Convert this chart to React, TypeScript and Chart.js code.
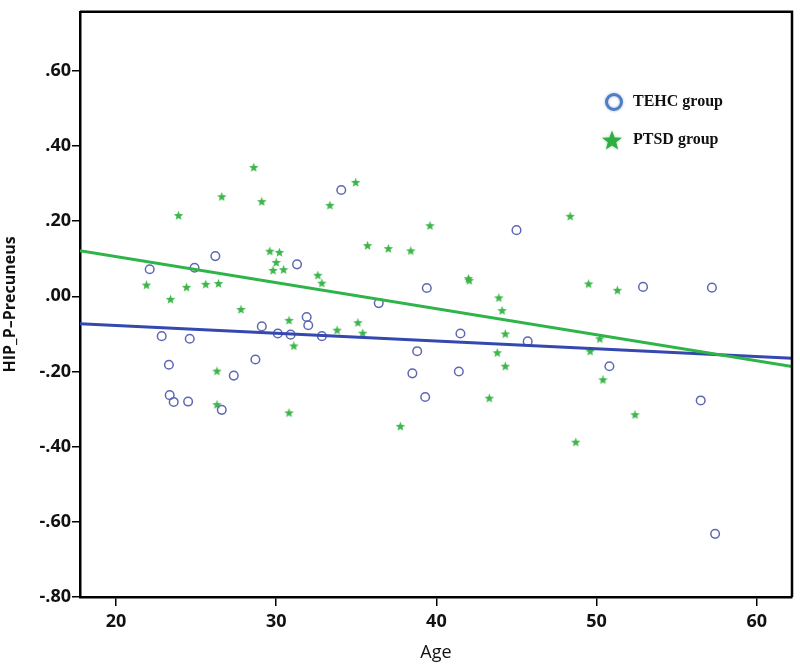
import React, { useEffect, useRef } from "react";
import { Chart, registerables } from "chart.js";

Chart.register(...registerables);

// ---- data ----
const tehcAge = [22.1, 22.85, 23.3, 23.35, 23.6, 24.5, 24.6, 24.9, 26.2, 26.6, 27.35, 28.7, 29.1, 30.1, 30.9, 31.3, 31.9, 32.0, 32.85, 34.06, 36.4, 38.5, 38.8, 39.3, 39.4, 41.4, 41.5, 45.0, 45.7, 50.8, 52.9, 56.5, 57.2, 57.4];
const tehcVal = [0.072, -0.106, -0.182, -0.263, -0.281, -0.28, -0.113, 0.076, 0.107, -0.302, -0.211, -0.168, -0.08, -0.099, -0.102, 0.085, -0.055, -0.077, -0.106, 0.283, -0.018, -0.205, -0.146, -0.268, 0.022, -0.2, -0.099, 0.176, -0.12, -0.186, 0.025, -0.277, 0.023, -0.632];

const ptsdAge = [21.9, 23.4, 23.9, 24.4, 25.6, 26.3, 26.3, 26.4, 26.6, 27.8, 28.6, 29.1, 29.6, 29.8, 30.0, 30.2, 30.46, 30.8, 30.8, 31.1, 32.6, 32.85, 33.35, 33.8, 34.96, 35.1, 35.4, 35.7, 37.0, 37.75, 38.4, 39.6, 42.0, 42.05, 43.3, 43.8, 43.9, 44.1, 44.3, 44.3, 48.35, 48.7, 49.5, 49.6, 50.2, 50.4, 51.3, 52.4];
const ptsdVal = [0.03, -0.008, 0.215, 0.024, 0.032, -0.199, -0.288, 0.034, 0.265, -0.035, 0.343, 0.252, 0.12, 0.069, 0.09, 0.117, 0.071, -0.064, -0.31, -0.132, 0.056, 0.035, 0.242, -0.09, 0.303, -0.07, -0.098, 0.135, 0.127, -0.346, 0.121, 0.188, 0.047, 0.042, -0.271, -0.15, -0.004, -0.038, -0.1, -0.186, 0.213, -0.388, 0.033, -0.146, -0.113, -0.222, 0.016, -0.315];

const fitAge = [17.75, 62.2];
const tehcFit = [-0.073, -0.165];
const ptsdFit = [0.121, -0.187];

const xTicks = [20, 30, 40, 50, 60];
const yTicks = [-0.8, -0.6, -0.4, -0.2, 0, 0.2, 0.4, 0.6];
const legendLabels = ["TEHC group", "PTSD group"];
const xTitle = "Age";
const yTitle = "HIP_P\u2013Precuneus";

const CIRCLE_COLOR = "#5f67b3";
const STAR_COLOR = "#3cb54a";
const GREEN_LINE = "#2fb44a";
const BLUE_LINE = "#3448b0";

function starPath(ctx: CanvasRenderingContext2D, cx: number, cy: number, ro: number, ri: number) {
  ctx.beginPath();
  for (let i = 0; i < 10; i++) {
    const r = i % 2 === 0 ? ro : ri;
    const a = -Math.PI / 2 + (i * Math.PI) / 5;
    const x = cx + r * Math.cos(a);
    const y = cy + r * Math.sin(a);
    if (i === 0) ctx.moveTo(x, y);
    else ctx.lineTo(x, y);
  }
  ctx.closePath();
}

function makeStarImage(): HTMLCanvasElement {
  const c = document.createElement("canvas");
  c.width = 11;
  c.height = 11;
  const g = c.getContext("2d")!;
  g.fillStyle = STAR_COLOR;
  starPath(g, 5.5, 5.8, 5, 2.1);
  g.fill();
  return c;
}

const framePlugin = {
  id: "framePlugin",
  afterDraw(chart: any) {
    const { ctx, chartArea } = chart;
    const { left, right, top, bottom } = chartArea;
    ctx.save();
    // top & right frame
    ctx.strokeStyle = "#000";
    ctx.lineWidth = 2.5;
    ctx.beginPath();
    ctx.moveTo(left, top);
    ctx.lineTo(right, top);
    ctx.lineTo(right, bottom);
    ctx.stroke();

    // axis titles
    ctx.fillStyle = "#111";
    ctx.font = '18px "Open Sans"';
    ctx.textAlign = "center";
    ctx.textBaseline = "middle";
    ctx.fillText(xTitle, (left + right) / 2, 653);

    ctx.save();
    ctx.translate(10, (top + bottom) / 2);
    ctx.rotate(-Math.PI / 2);
    ctx.font = 'bold 16px "Open Sans"';
    ctx.fillText(yTitle, 0, 0);
    ctx.restore();

    // legend
    ctx.shadowColor = "rgba(60,90,150,0.45)";
    ctx.shadowBlur = 3;
    ctx.strokeStyle = "#4d7fc6";
    ctx.lineWidth = 3;
    ctx.beginPath();
    ctx.arc(614, 102, 7.5, 0, Math.PI * 2);
    ctx.stroke();

    ctx.shadowColor = "rgba(40,150,60,0.45)";
    ctx.fillStyle = "#2fae45";
    starPath(ctx, 612, 141, 10.5, 4.4);
    ctx.fill();
    ctx.shadowBlur = 0;
    ctx.shadowColor = "transparent";

    ctx.fillStyle = "#111";
    ctx.textAlign = "left";
    ctx.font = 'bold 16px "Liberation Serif"';
    ctx.fillText(legendLabels[0], 633, 102);
    ctx.fillText(legendLabels[1], 633, 140);
    ctx.restore();
  },
};

function fmtY(v: number): string {
  const s = Math.abs(v).toFixed(2).replace(/^0/, "");
  return v < -1e-9 ? "-" + s : s;
}

export default function App() {
  const ref = useRef<HTMLCanvasElement | null>(null);

  useEffect(() => {
    if (!ref.current) return;
    const starImg = makeStarImage();
    const tickFont = { family: '"Open Sans"', size: 18, weight: "bold" as any };

    const chart = new Chart(ref.current, {
      type: "scatter",
      data: {
        datasets: [
          {
            label: "PTSD fit",
            type: "line" as any,
            data: fitAge.map((x, i) => ({ x, y: ptsdFit[i] })),
            borderColor: GREEN_LINE,
            borderWidth: 3,
            pointRadius: 0,
            showLine: true,
            fill: false,
            order: 0,
          },
          {
            label: "TEHC fit",
            type: "line" as any,
            data: fitAge.map((x, i) => ({ x, y: tehcFit[i] })),
            borderColor: BLUE_LINE,
            borderWidth: 3,
            pointRadius: 0,
            showLine: true,
            fill: false,
            order: 0,
          },
          {
            label: legendLabels[0],
            data: tehcAge.map((x, i) => ({ x, y: tehcVal[i] })),
            pointStyle: "circle",
            pointRadius: 4.3,
            borderWidth: 1.5,
            borderColor: CIRCLE_COLOR,
            backgroundColor: "rgba(255,255,255,0)",
            order: 1,
          },
          {
            label: legendLabels[1],
            data: ptsdAge.map((x, i) => ({ x, y: ptsdVal[i] })),
            pointStyle: starImg as any,
            pointRadius: 5,
            borderColor: STAR_COLOR,
            backgroundColor: STAR_COLOR,
            order: 1,
          },
        ],
      },
      options: {
        responsive: false,
        animation: false,
        devicePixelRatio: 1,
        layout: { padding: { top: 7, right: 8, left: 0, bottom: 0 } },
        plugins: {
          legend: { display: false },
          tooltip: { enabled: false },
        },
        scales: {
          x: {
            type: "linear",
            min: fitAge[0],
            max: fitAge[1],
            afterBuildTicks: (scale: any) => {
              scale.ticks = xTicks.map((v) => ({ value: v }));
            },
            afterFit: (scale: any) => {
              scale.height = 73;
            },
            ticks: {
              color: "#111",
              font: tickFont,
              padding: 5,
              maxRotation: 0,
              autoSkip: false,
              callback: (v: any) => String(v),
            },
            grid: {
              drawOnChartArea: false,
              drawTicks: true,
              tickLength: 9,
              color: "#000",
              lineWidth: 1.5,
            },
            border: { display: true, color: "#000", width: 2.5 },
          },
          y: {
            type: "linear",
            min: -0.8,
            max: 0.757,
            afterBuildTicks: (scale: any) => {
              scale.ticks = yTicks.map((v) => ({ value: v }));
            },
            afterFit: (scale: any) => {
              scale.width = 80;
            },
            ticks: {
              color: "#111",
              font: tickFont,
              padding: 1,
              autoSkip: false,
              callback: (v: any) => fmtY(Number(v)),
            },
            grid: {
              drawOnChartArea: false,
              drawTicks: true,
              tickLength: 8,
              color: "#000",
              lineWidth: 1.5,
            },
            border: { display: true, color: "#000", width: 2.5 },
          },
        },
      },
      plugins: [framePlugin],
    });

    return () => chart.destroy();
  }, []);

  return (
    <div style={{ position: "absolute", left: 0, top: 0, width: 800, height: 670, background: "#fff" }}>
      <canvas ref={ref} width={800} height={670} />
    </div>
  );
}
